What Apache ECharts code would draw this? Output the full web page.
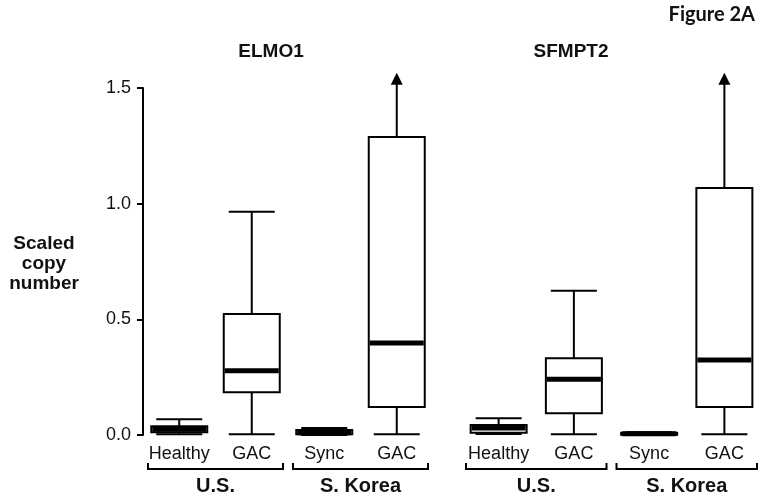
<!DOCTYPE html>
<html><head><meta charset="utf-8">
<script src="https://cdn.jsdelivr.net/npm/echarts@6/dist/echarts.min.js"></script>
<style>html,body{margin:0;padding:0;background:#fff}#c{width:763px;height:498px}</style>
</head><body><div id="c"></div>
<script>
// ---- data ----
const categories = ['Healthy', 'GAC', 'Sync', 'GAC'];
const groups = ['U.S.', 'S. Korea'];
const groupSpans = [[0, 1], [2, 3]];
const panelTitles = ['ELMO1', 'SFMPT2'];
const yMin = 0, yMax = 1.5, yStep = 0.5;

// ELMO1 box statistics (per category)
const elmo1Lower  = [0.003, 0.003, 0.000, 0.003];
const elmo1Q1     = [0.012, 0.185, 0.003, 0.121];
const elmo1Median = [0.025, 0.278, 0.010, 0.398];
const elmo1Q3     = [0.038, 0.523, 0.022, 1.288];
const elmo1Upper  = [0.068, 0.965, 0.030, 1.566]; // > yMax : drawn as arrow

// SFMPT2 box statistics (per category)
const sfmpt2Lower  = [0.004, 0.003, 0.000, 0.003];
const sfmpt2Q1     = [0.010, 0.094, 0.001, 0.121];
const sfmpt2Median = [0.030, 0.241, 0.005, 0.324];
const sfmpt2Q3     = [0.043, 0.332, 0.010, 1.068];
const sfmpt2Upper  = [0.072, 0.624, 0.012, 1.566]; // > yMax : drawn as arrow

// ---- build ----
function rows(lo, q1, md, q3, hi) {
  return categories.map((_, i) => [i, lo[i], q1[i], md[i], q3[i], hi[i]]);
}
const FONT = '"Liberation Sans", Arial, sans-serif';
const INK = '#111';

function boxItem(params, api) {
  const i = api.value(0);
  const cx = api.coord([i, 0])[0];
  const Y = v => api.coord([i, v])[1];
  const lo = Y(api.value(1)), q1 = Y(api.value(2)), md = Y(api.value(3)), q3 = Y(api.value(4));
  const hiV = api.value(5), hi = Y(hiV);
  const bw = 56, cw = 46, ln = { stroke: '#000', lineWidth: 2 };
  const trunc = hiV > yMax;
  const ch = [
    { type: 'line', shape: { x1: cx, y1: lo, x2: cx, y2: q1 }, style: ln },
    { type: 'line', shape: { x1: cx, y1: q3, x2: cx, y2: trunc ? hi + 10 : hi }, style: ln },
    { type: 'line', shape: { x1: cx - cw / 2, y1: lo, x2: cx + cw / 2, y2: lo }, style: ln },
    { type: 'rect', shape: { x: cx - bw / 2, y: q3, width: bw, height: q1 - q3 }, style: { fill: '#fff', stroke: '#000', lineWidth: 2 } },
    { type: 'line', shape: { x1: cx - bw / 2 + 1, y1: md, x2: cx + bw / 2 - 1, y2: md }, style: { stroke: '#000', lineWidth: 5 } }
  ];
  if (trunc) {
    ch.push({ type: 'polygon', shape: { points: [[cx, hi], [cx - 6, hi + 12], [cx + 6, hi + 12]] }, style: { fill: '#000' } });
  } else {
    ch.push({ type: 'line', shape: { x1: cx - cw / 2, y1: hi, x2: cx + cw / 2, y2: hi }, style: ln });
  }
  return { type: 'group', children: ch };
}

function bracketItem(params, api) {
  const a = api.value(0), b = api.value(1);
  const band = api.size([1, 0])[0];
  const x0 = api.coord([a, 0])[0] - band / 2 + 5;
  const x1 = api.coord([b, 0])[0] + band / 2 - 5;
  const y0 = api.coord([a, 0])[1] + 34;
  const ln = { stroke: '#000', lineWidth: 2 };
  return {
    type: 'group', children: [
      { type: 'polyline', shape: { points: [[x0, y0 - 6], [x0, y0], [x1, y0], [x1, y0 - 6]] }, style: Object.assign({ fill: null }, ln) },
      { type: 'text', style: { text: groups[params.dataIndex], x: (x0 + x1) / 2, y: y0 + 17, align: 'center', verticalAlign: 'middle', fontSize: 20, fontWeight: 'bold', fontFamily: FONT, fill: INK } }
    ]
  };
}

const bracketData = groupSpans.map(s => [s[0], s[1]]);

const grids = [
  { left: 143, width: 290, top: 88, bottom: 63 },
  { left: 461, width: 301, top: 88, bottom: 63 }
];

const xAxes = grids.map((g, k) => ({
  type: 'category', gridIndex: k, data: categories,
  axisLine: { show: false }, axisTick: { show: false },
  axisLabel: { fontSize: 18, fontFamily: FONT, color: INK, margin: 10, interval: 0 }
}));
const yAxes = grids.map((g, k) => ({
  type: 'value', gridIndex: k, min: yMin, max: yMax, interval: yStep, show: k === 0,
  axisLine: { show: true, lineStyle: { color: '#000', width: 2 } },
  axisTick: { show: true, length: 6, lineStyle: { color: '#000', width: 2 } },
  splitLine: { show: false },
  axisLabel: { fontSize: 18, fontFamily: FONT, color: INK, margin: 12, formatter: v => v.toFixed(1) }
}));

const option = {
  backgroundColor: '#fff',
  animation: false,
  title: [
    { text: panelTitles[0], left: 271, top: 42, textAlign: 'center', padding: 0, textStyle: { fontSize: 19, fontWeight: 'bold', fontFamily: FONT, color: INK } },
    { text: panelTitles[1], left: 571, top: 42, textAlign: 'center', padding: 0, textStyle: { fontSize: 19, fontWeight: 'bold', fontFamily: FONT, color: INK } },
    { text: 'Figure 2A', right: 8, top: 5, padding: 0, textStyle: { fontSize: 20, fontWeight: 'bold', fontFamily: 'Lato, "Open Sans", sans-serif', color: INK } },
    { text: 'Scaled\ncopy\nnumber', left: 44, top: 234, textAlign: 'center', padding: 0, textStyle: { fontSize: 19, fontWeight: 'bold', fontFamily: FONT, color: INK, lineHeight: 20, align: 'center' } }
  ],
  grid: grids,
  xAxis: xAxes,
  yAxis: yAxes,
  series: [
    { type: 'custom', xAxisIndex: 0, yAxisIndex: 0, renderItem: boxItem, encode: { x: 0, y: [1, 2, 3, 4, 5] }, data: rows(elmo1Lower, elmo1Q1, elmo1Median, elmo1Q3, elmo1Upper), clip: false, silent: true },
    { type: 'custom', xAxisIndex: 1, yAxisIndex: 1, renderItem: boxItem, encode: { x: 0, y: [1, 2, 3, 4, 5] }, data: rows(sfmpt2Lower, sfmpt2Q1, sfmpt2Median, sfmpt2Q3, sfmpt2Upper), clip: false, silent: true },
    { type: 'custom', xAxisIndex: 0, yAxisIndex: 0, renderItem: bracketItem, encode: { x: [0, 1] }, data: bracketData, clip: false, silent: true },
    { type: 'custom', xAxisIndex: 1, yAxisIndex: 1, renderItem: bracketItem, encode: { x: [0, 1] }, data: bracketData, clip: false, silent: true }
  ]
};
echarts.init(document.getElementById('c'), null, { renderer: 'canvas' }).setOption(option);
</script>
</body></html>
